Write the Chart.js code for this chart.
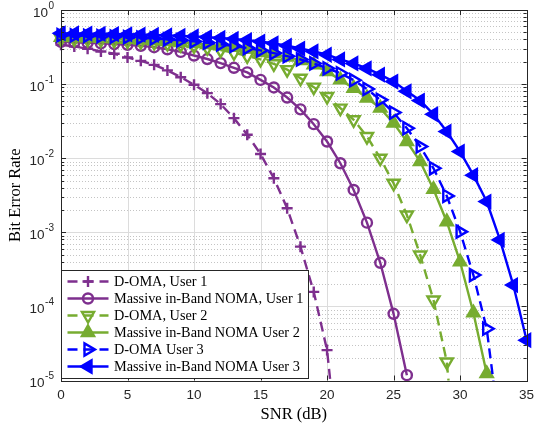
<!DOCTYPE html>
<html>
<head>
<meta charset="utf-8">
<script src="https://cdn.jsdelivr.net/npm/chart.js@4.4.1/dist/chart.umd.min.js"></script>
<style>
  html, body { margin: 0; padding: 0; background: #ffffff; }
  #wrap { width: 536px; height: 428px; }
</style>
</head>
<body>
<div id="wrap"><canvas id="ber" width="536" height="428"></canvas></div>
<script>
// SNR grid (dB)
const snr = [0, 1, 2, 3, 4, 5, 6, 7, 8, 9, 10, 11, 12, 13, 14, 15, 16, 17,
             18, 19, 20, 21, 22, 23, 24, 25, 26, 27, 28, 29, 30, 31, 32, 33, 34, 35];

// Simulated bit error rates, one value per SNR step starting at 0 dB
const domaUser1 = [0.340, 0.322, 0.300, 0.276, 0.257, 0.229, 0.206, 0.182, 0.153, 0.124,
                   0.098, 0.0755, 0.0537, 0.0347, 0.0207, 0.0114, 0.00537, 0.00211,
                   6.4e-4, 1.57e-4, 2.57e-5, 5e-7];
const nomaUser1 = [0.372, 0.367, 0.361, 0.354, 0.347, 0.339, 0.328, 0.315, 0.295, 0.272,
                   0.243, 0.218, 0.192, 0.166, 0.144, 0.114, 0.090, 0.0659, 0.0456, 0.0288,
                   0.0168, 0.00855, 0.00373, 0.00135, 3.88e-4, 7.94e-5, 1.18e-5];
const domaUser2 = [0.412, 0.408, 0.403, 0.397, 0.390, 0.383, 0.374, 0.364, 0.353, 0.341,
                   0.327, 0.310, 0.287, 0.265, 0.241, 0.215, 0.188, 0.157, 0.120, 0.091,
                   0.068, 0.0474, 0.033, 0.0196, 0.0100, 0.00459, 0.00171, 4.93e-4,
                   1.22e-4, 1.78e-5, 2e-7];
const nomaUser2 = [0.428, 0.424, 0.420, 0.415, 0.409, 0.402, 0.394, 0.385, 0.375, 0.364,
                   0.353, 0.341, 0.328, 0.314, 0.298, 0.278, 0.256, 0.232, 0.208, 0.182,
                   0.148, 0.114, 0.088, 0.065, 0.0474, 0.0297, 0.0168, 0.0090, 0.0038,
                   0.00139, 4.0e-4, 8.2e-5, 1.24e-5];
const domaUser3 = [0.458, 0.454, 0.449, 0.443, 0.437, 0.430, 0.422, 0.413, 0.402, 0.390,
                   0.377, 0.362, 0.345, 0.327, 0.307, 0.285, 0.262, 0.238, 0.215, 0.190,
                   0.163, 0.140, 0.113, 0.086, 0.0613, 0.0413, 0.0254, 0.0144, 0.0073,
                   0.0031, 1.02e-3, 2.65e-4, 5.0e-5, 2e-6];
const nomaUser3 = [0.484, 0.482, 0.480, 0.477, 0.474, 0.470, 0.466, 0.461, 0.455, 0.448,
                   0.440, 0.430, 0.420, 0.407, 0.392, 0.375, 0.355, 0.330, 0.302, 0.276,
                   0.249, 0.215, 0.190, 0.163, 0.134, 0.108, 0.080, 0.060, 0.0392, 0.0229,
                   0.0123, 0.0059, 0.0026, 7.9e-4, 1.94e-4, 3.5e-5];

const seriesNames = ['D-OMA, User 1', 'Massive in-Band NOMA, User 1', 'D-OMA, User 2',
                     'Massive in-Band NOMA User 2', 'D-OMA User 3', 'Massive in-Band NOMA User 3'];
const seriesValues = [domaUser1, nomaUser1, domaUser2, nomaUser2, domaUser3, nomaUser3];

// Axis ticks
const xTicks = [0, 5, 10, 15, 20, 25, 30, 35];
const yDecades = [0, -1, -2, -3, -4, -5];

// Styling
const PURPLE = '#7E2F8E', GREEN = '#77AC30', BLUE = '#0000FF';
const styles = [
  { color: PURPLE, dash: [10, 6], shape: 'cross',    rot: 0,   r: 5.5, filled: false },
  { color: PURPLE, dash: [],      shape: 'circle',   rot: 0,   r: 5,   filled: false },
  { color: GREEN,  dash: [10, 6], shape: 'triangle', rot: 180, r: 7,   filled: false },
  { color: GREEN,  dash: [],      shape: 'triangle', rot: 0,   r: 7,   filled: true  },
  { color: BLUE,   dash: [10, 6], shape: 'triangle', rot: 90,  r: 7,   filled: false },
  { color: BLUE,   dash: [],      shape: 'triangle', rot: 270, r: 7,   filled: true  }
];
const LINE_W = 2.4;
const Y_MIN = 1e-5, Y_MAX = 1;
const AXIS_COLOR = '#262626';
const TICK_FONT = '13.5px "Liberation Sans", Arial, sans-serif';
const SUP_FONT = '10px "Liberation Sans", Arial, sans-serif';
const SERIF = '"Liberation Serif", "Times New Roman", serif';

// Build datasets: each curve is a clipped line plus an unclipped marker layer
const datasets = [];
seriesValues.forEach((vals, i) => {
  const st = styles[i];
  const pts = vals.map((v, k) => ({ x: snr[k], y: v }));
  const order = 100 - i * 2;
  datasets.push({
    label: seriesNames[i],
    data: pts,
    borderColor: st.color,
    borderWidth: LINE_W,
    borderDash: st.dash,
    borderCapStyle: 'butt',
    pointRadius: 0,
    fill: false,
    tension: 0,
    clip: 0,
    order: order
  });
  datasets.push({
    label: seriesNames[i] + ' markers',
    data: pts,
    showLine: false,
    pointStyle: st.shape,
    rotation: st.rot,
    pointRadius: (c) => (c.raw && c.raw.y >= Y_MIN ? st.r : 0),
    pointBorderWidth: LINE_W,
    pointBorderColor: st.color,
    pointBackgroundColor: st.filled ? st.color : 'rgba(0,0,0,0)',
    clip: false,
    order: order - 1
  });
});

function markerPath(ctx, shape, x, y, r, rotDeg) {
  ctx.beginPath();
  if (shape === 'circle') {
    ctx.arc(x, y, r, 0, Math.PI * 2);
  } else if (shape === 'cross') {
    ctx.moveTo(x - r, y); ctx.lineTo(x + r, y);
    ctx.moveTo(x, y - r); ctx.lineTo(x, y + r);
  } else {
    let a = rotDeg * Math.PI / 180;
    ctx.moveTo(x + Math.sin(a) * r, y - Math.cos(a) * r);
    a += 2 * Math.PI / 3;
    ctx.lineTo(x + Math.sin(a) * r, y - Math.cos(a) * r);
    a += 2 * Math.PI / 3;
    ctx.lineTo(x + Math.sin(a) * r, y - Math.cos(a) * r);
    ctx.closePath();
  }
}

const axesFrame = {
  id: 'axesFrame',
  beforeDatasetsDraw(chart) {
    const { ctx, chartArea: a, scales } = chart;
    const xs = scales.x, ys = scales.y;
    ctx.save();
    ctx.lineWidth = 1;
    // minor grid (dotted)
    ctx.strokeStyle = '#c4c4c4';
    ctx.setLineDash([1, 2]);
    for (let e = -5; e < 0; e++) {
      for (let m = 2; m <= 9; m++) {
        const py = Math.round(ys.getPixelForValue(m * Math.pow(10, e))) + 0.5;
        ctx.beginPath(); ctx.moveTo(a.left, py); ctx.lineTo(a.right, py); ctx.stroke();
      }
    }
    // major grid
    ctx.setLineDash([]);
    ctx.strokeStyle = '#dcdcdc';
    yDecades.forEach(e => {
      if (e === 0 || e === -5) return;
      const py = Math.round(ys.getPixelForValue(Math.pow(10, e))) + 0.5;
      ctx.beginPath(); ctx.moveTo(a.left, py); ctx.lineTo(a.right, py); ctx.stroke();
    });
    xTicks.forEach(v => {
      if (v === 0 || v === 35) return;
      const px = Math.round(xs.getPixelForValue(v)) + 0.5;
      ctx.beginPath(); ctx.moveTo(px, a.top); ctx.lineTo(px, a.bottom); ctx.stroke();
    });
    ctx.restore();
  },
  afterDatasetsDraw(chart) {
    const { ctx, chartArea: a, scales } = chart;
    const xs = scales.x, ys = scales.y;
    ctx.save();
    ctx.strokeStyle = AXIS_COLOR;
    ctx.lineWidth = 1;
    // ticks (inward, all four sides)
    ctx.beginPath();
    xTicks.forEach(v => {
      const px = Math.round(xs.getPixelForValue(v)) + 0.5;
      ctx.moveTo(px, a.bottom); ctx.lineTo(px, a.bottom - 5);
      ctx.moveTo(px, a.top); ctx.lineTo(px, a.top + 5);
    });
    for (let e = -5; e <= 0; e++) {
      const py = Math.round(ys.getPixelForValue(Math.pow(10, e))) + 0.5;
      ctx.moveTo(a.left, py); ctx.lineTo(a.left + 5, py);
      ctx.moveTo(a.right, py); ctx.lineTo(a.right - 5, py);
      if (e < 0) {
        for (let m = 2; m <= 9; m++) {
          const q = Math.round(ys.getPixelForValue(m * Math.pow(10, e))) + 0.5;
          ctx.moveTo(a.left, q); ctx.lineTo(a.left + 3, q);
          ctx.moveTo(a.right, q); ctx.lineTo(a.right - 3, q);
        }
      }
    }
    ctx.stroke();
    // box
    ctx.strokeRect(Math.round(a.left) + 0.5, Math.round(a.top) + 0.5,
                   Math.round(a.right - a.left), Math.round(a.bottom - a.top));

    // x tick labels
    ctx.fillStyle = AXIS_COLOR;
    ctx.font = TICK_FONT;
    ctx.textAlign = 'center';
    ctx.textBaseline = 'middle';
    xTicks.forEach(v => ctx.fillText(String(v), xs.getPixelForValue(v), a.bottom + 15));

    // y tick labels 10^n
    yDecades.forEach(e => {
      const py = ys.getPixelForValue(Math.pow(10, e));
      const sup = String(e);
      ctx.font = SUP_FONT;
      const sw = ctx.measureText(sup).width;
      const right = a.left - 7;
      ctx.textAlign = 'right';
      ctx.fillText(sup, right, py - 4);
      ctx.font = TICK_FONT;
      ctx.fillText('10', right - sw - 0.5, py + 3);
    });

    // axis titles
    ctx.fillStyle = '#000000';
    ctx.font = '16.5px ' + SERIF;
    ctx.textAlign = 'center';
    ctx.fillText('SNR (dB)', (a.left + a.right) / 2, a.bottom + 34);
    ctx.save();
    ctx.translate(16, (a.top + a.bottom) / 2);
    ctx.rotate(-Math.PI / 2);
    ctx.fillText('Bit Error Rate', 0, 0);
    ctx.restore();

    // legend
    const lx = 61.5, ly = 270.5, lw = 247, lh = 108;
    ctx.fillStyle = '#ffffff';
    ctx.fillRect(lx, ly, lw, lh);
    ctx.strokeStyle = AXIS_COLOR;
    ctx.lineWidth = 1;
    ctx.strokeRect(lx, ly, lw, lh);
    ctx.font = '14.3px ' + SERIF;
    ctx.textAlign = 'left';
    ctx.textBaseline = 'middle';
    seriesNames.forEach((name, i) => {
      const st = styles[i];
      const cy = 281.5 + i * 17;
      ctx.strokeStyle = st.color;
      ctx.lineWidth = LINE_W;
      ctx.setLineDash(st.dash);
      ctx.beginPath(); ctx.moveTo(67.5, cy); ctx.lineTo(108.5, cy); ctx.stroke();
      ctx.setLineDash([]);
      markerPath(ctx, st.shape, 88, cy, st.r, st.rot);
      if (st.filled) { ctx.fillStyle = st.color; ctx.fill(); }
      ctx.stroke();
      ctx.fillStyle = '#000000';
      ctx.fillText(name, 114, cy + 1);
    });
    ctx.restore();
  }
};

new Chart(document.getElementById('ber'), {
  type: 'line',
  data: { datasets },
  options: {
    responsive: false,
    devicePixelRatio: 1,
    animation: false,
    events: [],
    layout: { padding: { top: 10, right: 6, left: 0, bottom: 0 } },
    plugins: { legend: { display: false }, tooltip: { enabled: false } },
    scales: {
      x: {
        type: 'linear', min: 0, max: 35,
        ticks: { display: false },
        grid: { display: false },
        border: { display: false },
        afterFit: (s) => { s.height = 47.5; }
      },
      y: {
        type: 'logarithmic', min: Y_MIN, max: Y_MAX,
        ticks: { display: false },
        grid: { display: false },
        border: { display: false },
        afterFit: (s) => { s.width = 61; }
      }
    }
  },
  plugins: [axesFrame]
});
</script>
</body>
</html>
